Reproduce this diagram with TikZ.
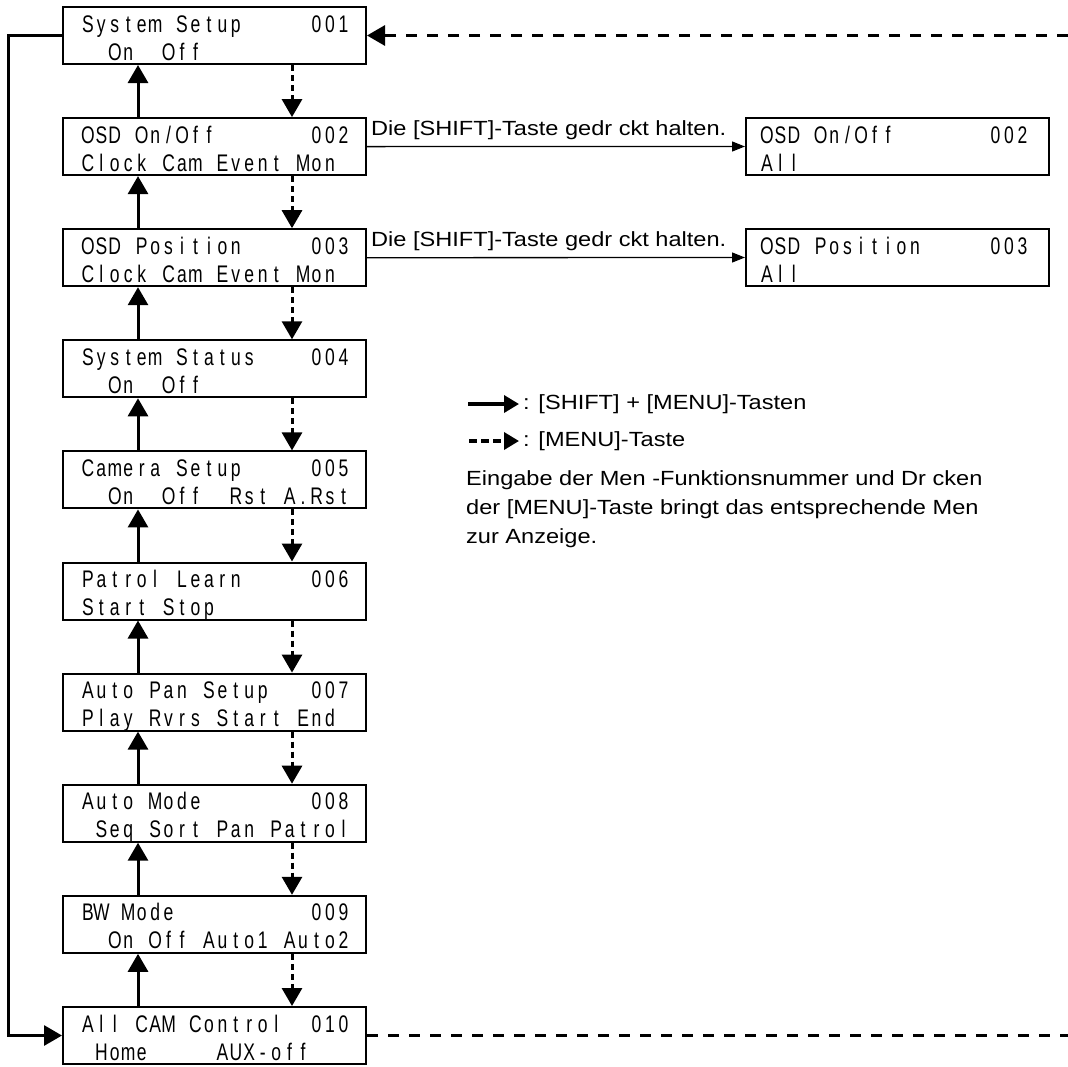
\documentclass[tikz,border=0pt]{standalone}
\usepackage{fontspec}
\setmainfont{Liberation Sans}
\newfontfamily\lcdfont{Liberation Sans}[FakeStretch=0.73]
\newfontfamily\txtfont{Liberation Sans}[FakeStretch=1.15]
\usetikzlibrary{arrows.meta,calc}
\newlength\cellw \setlength\cellw{13.45pt}
\def\lcd#1{\lcdi#1\relax}
\def\lcdi#1{\ifx#1\relax\else\makebox[\cellw][c]{#1}\expandafter\lcdi\fi}
\tikzset{
  mbox/.style={draw, line width=2pt, minimum width=303pt, minimum height=57pt, inner sep=0pt},
  lcd/.style={inner sep=0pt, font=\lcdfont\fontsize{24}{24}\selectfont},
  txt/.style={inner sep=0pt, font=\txtfont\fontsize{20.5}{29}\selectfont},
  bigtip/.style={-{Triangle[width=20pt,length=18pt]}},
  uparr/.style={line width=3pt, bigtip},
  dnarr/.style={line width=3pt, dash pattern=on 6pt off 4pt, bigtip},
  loopline/.style={line width=3pt},
  longdash/.style={line width=3pt, dash pattern=on 11pt off 10pt},
  shiftarr/.style={line width=1.3pt, -{Triangle[width=10pt,length=13pt]}},
}
\newcommand\menubox[6]{%
  \node[mbox] (#1) at (#2+151.5,#3+28.5) {};
  \node[lcd, anchor=base west] (#1a) at ($(#1.north west)+(#4,26)$) {\lcd{#5}};
  \node[lcd, anchor=base west] (#1b) at ($(#1.north west)+(#4,54)$) {\lcd{#6}};
}
\begin{document}
\begin{tikzpicture}[x=1pt,y=-1pt]
\useasboundingbox (0,0) rectangle (1068,1066);
\menubox{b1}{63}{7}{19}{System~Setup~~~~~001}{~~On~~Off}
\menubox{b2}{63}{118.1}{19}{OSD~On/Off~~~~~~~002}{Clock~Cam~Event~Mon}
\menubox{b3}{63}{229.2}{19}{OSD~Position~~~~~003}{Clock~Cam~Event~Mon}
\menubox{b4}{63}{340.3}{19}{System~Status~~~~004}{~~On~~Off}
\menubox{b5}{63}{451.4}{19}{Camera~Setup~~~~~005}{~~On~~Off~~Rst~A.Rst}
\menubox{b6}{63}{562.5}{19}{Patrol~Learn~~~~~006}{Start~Stop}
\menubox{b7}{63}{673.6}{19}{Auto~Pan~Setup~~~007}{Play~Rvrs~Start~End}
\menubox{b8}{63}{784.7}{19}{Auto~Mode~~~~~~~~008}{~Seq~Sort~Pan~Patrol}
\menubox{b9}{63}{895.8}{19}{BW~Mode~~~~~~~~~~009}{~~On~Off~Auto1~Auto2}
\menubox{b10}{63}{1007}{19}{All~CAM~Control~~010}{~Home~~~~~AUX-off}
\menubox{r2}{746}{118}{15}{OSD~On/Off~~~~~~~002}{All}
\menubox{r3}{746}{229}{15}{OSD~Position~~~~~003}{All}
% vertical connectors
\foreach \u/\l in {b1/b2,b2/b3,b3/b4,b4/b5,b5/b6,b6/b7,b7/b8,b8/b9,b9/b10}{
  \draw[uparr] ([xshift=76pt]\l.north west) -- ([xshift=76pt]\u.south west);
  \draw[dnarr] ([xshift=230pt]\u.south west) -- ([xshift=230pt]\l.north west);
}
% loop
\draw[loopline, bigtip] (b1.west) -- ++(-54,0) |- (b10.west);
\coordinate (tr) at (1068,35.5);
\coordinate (br) at (1068,1035.5);
\draw[longdash, bigtip] (tr) -- (b1.east);
\draw[longdash] (b10.east) -- (br);
% shift arrows
\draw[shiftarr] (b2.east) -- (r2.west);
\draw[shiftarr] (b3.east) -- (r3.west);
\node[txt, anchor=base west] (l2) at ($(b2.east)+(4,-11)$) {Die [SHIFT]-Taste gedr ckt halten.};
\node[txt, anchor=base west] (l3) at ($(b3.east)+(4,-11)$) {Die [SHIFT]-Taste gedr ckt halten.};
% legend
\coordinate (la1) at (468,404);
\coordinate (la2) at (519,404);
\coordinate (lb1) at (469,441);
\coordinate (lb2) at (519,441);
\draw[line width=3.5pt, -{Triangle[width=17pt,length=15pt]}] (la1) -- (la2);
\draw[line width=3.5pt, dash pattern=on 8pt off 4pt, -{Triangle[width=17pt,length=15pt]}] (lb1) -- (lb2);
\node[txt, anchor=west] (lt1) at (523,404) {: [SHIFT] + [MENU]-Tasten};
\node[txt, anchor=west] (lt2) at (523,441) {: [MENU]-Taste};
\node[txt, anchor=base west, align=left] (para) at (466,543) {Eingabe der Men -Funktionsnummer und Dr cken\\der [MENU]-Taste bringt das entsprechende Men\\zur Anzeige.};
\end{tikzpicture}
\end{document}
